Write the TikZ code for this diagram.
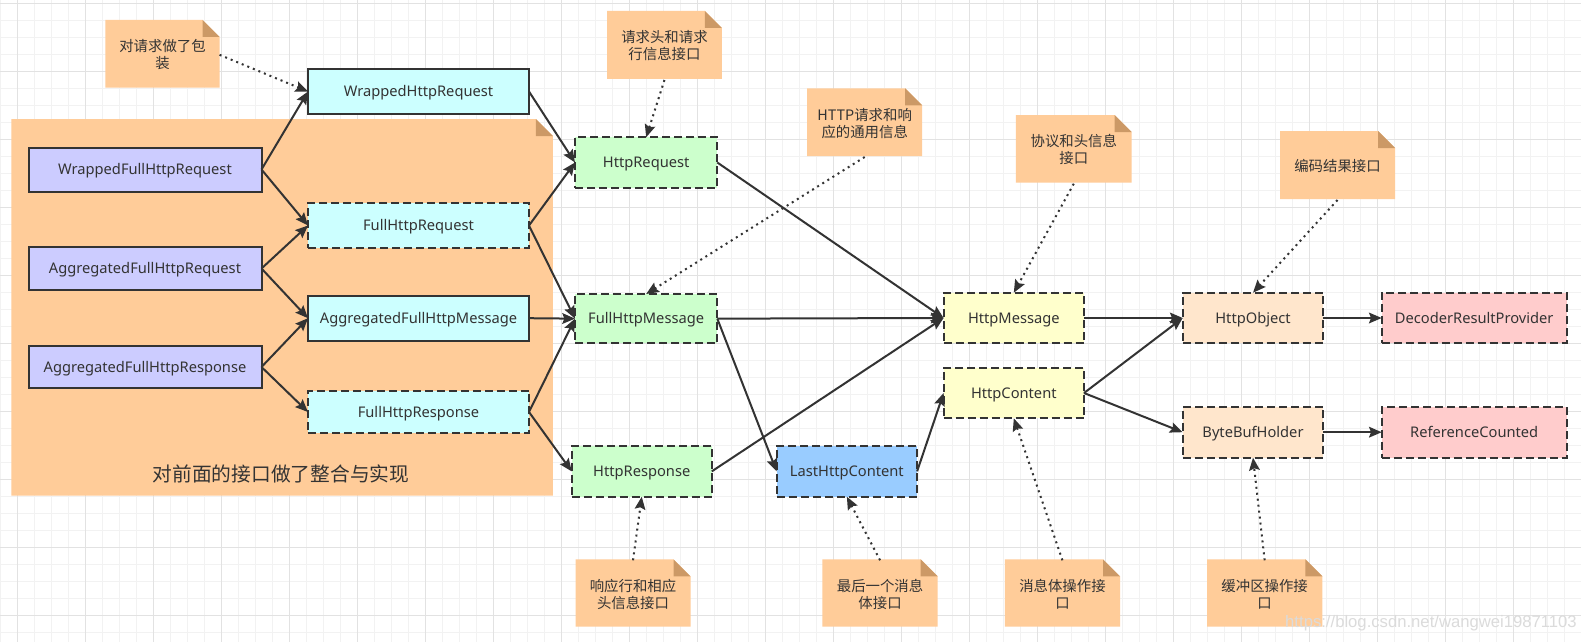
\documentclass[tikz,border=0pt]{standalone}
\usepackage{fontspec}
\setmainfont{Noto Sans}
\newfontfamily\cjk{Noto Sans CJK SC}
\newfontfamily\wmfont{Liberation Sans}
\usetikzlibrary{arrows.meta}
\definecolor{ink}{HTML}{333333}
\definecolor{gridminor}{HTML}{F2F2F2}
\definecolor{gridmajor}{HTML}{E2E2E2}
\definecolor{notefill}{HTML}{FFCC99}
\definecolor{notefold}{HTML}{CC9966}
\definecolor{cpurple}{HTML}{CCCCFF}
\definecolor{ccyan}{HTML}{CCFFFF}
\definecolor{cgreen}{HTML}{CCFFCC}
\definecolor{cyellow}{HTML}{FFFFCC}
\definecolor{cblue}{HTML}{99CCFF}
\definecolor{cpeach}{HTML}{FFE6CC}
\definecolor{cpink}{HTML}{FFCCCC}
\tikzset{
 box/.style={draw=ink, line width=1.5pt, inner sep=0pt, outer sep=0pt, text=ink, text height=8pt, text depth=0pt, font=\fontsize{11}{13}\selectfont},
 solidbox/.style={box},
 dashbox/.style={box, dash pattern=on 6pt off 3pt},
 notetext/.style={inner sep=0pt, outer sep=0pt, text=ink, align=center, font=\cjk\fontsize{10.8}{12.75}\selectfont},
 conn/.style={draw=ink, line width=1.5pt, -{Stealth[length=9.5pt,width=8pt,inset=1.5pt]}},
 dotconn/.style={conn, dash pattern=on 1.5pt off 3pt}
}
\newcommand{\bx}[7]{\node[#6, minimum width={(#4-#2)*0.75pt}, minimum height={(#5-#3)*0.75pt}] (#1) at ({(#2+#4)/2},{(#3+#5)/2}) {#7};}
\newcommand{\notebg}[4]{%
 \fill[notefill] (#1,#2) -- ({#3-17},#2) -- (#3,{#2+17}) -- (#3,#4) -- (#1,#4) -- cycle;
 \fill[notefold] ({#3-17},#2) -- ({#3-17},{#2+17}) -- (#3,{#2+17}) -- cycle;}
\newcommand{\nt}[6]{\notebg{#2}{#3}{#4}{#5}%
 \node[notetext, minimum width={(#4-#2)*0.75pt}, minimum height={(#5-#3)*0.75pt}] (#1) at ({(#2+#4)/2},{(#3+#5)/2+1}) {#6};}
\begin{document}
\begin{tikzpicture}[x=0.75pt,y=-0.75pt]
\useasboundingbox (0,0) rectangle (1581,642);
\fill[white] (0,0) rectangle (1581,642);
% grid
\foreach \i in {0,...,93} {\pgfmathsetmacro\xx{0.3+17*\i}\draw[gridminor,line width=0.75pt] (\xx,0) -- (\xx,642);}
\foreach \i in {0,...,37} {\pgfmathsetmacro\yy{3.3+17*\i}\draw[gridminor,line width=0.75pt] (0,\yy) -- (1581,\yy);}
\foreach \i in {0,...,23} {\pgfmathsetmacro\xx{17.3+68*\i}\draw[gridmajor,line width=0.75pt] (\xx,0) -- (\xx,642);}
\foreach \i in {0,...,9} {\pgfmathsetmacro\yy{3.3+68*\i}\draw[gridmajor,line width=0.75pt] (0,\yy) -- (1581,\yy);}
% big group note
\notebg{11.4}{119}{552.9}{495.7}
\node[notetext, font=\cjk\fontsize{14.8}{17}\selectfont] (biglabel) at (281,474) {对前面的接口做了整合与实现};
% notes
\nt{n1}{105.4}{20}{219.6}{87.7}{对请求做了包\\装}
\nt{n2}{607.1}{11}{721.8}{79}{请求头和请求\\行信息接口}
\nt{n3}{807.2}{88.3}{922.2}{156}{HTTP请求和响\\应的通用信息}
\nt{n4}{1015.9}{115}{1131.7}{182.7}{协议和头信息\\接口}
\nt{n5}{1280}{131}{1395}{199}{编码结果接口}
\nt{n6}{575.5}{559.3}{690.5}{626.7}{响应行和相应\\头信息接口}
\nt{n7}{822.4}{559.3}{937.7}{626.7}{最后一个消息\\体接口}
\nt{n8}{1004.9}{559.3}{1120}{626.7}{消息体操作接\\口}
\nt{n9}{1207}{559.3}{1322.3}{626.7}{缓冲区操作接\\口}
% boxes
\bx{whr}{308}{69}{529}{114}{solidbox,fill=ccyan}{WrappedHttpRequest}
\bx{wfr}{28.5}{147.5}{261.5}{191.5}{solidbox,fill=cpurple}{WrappedFullHttpRequest}
\bx{fhr}{308}{203}{529}{248}{dashbox,fill=ccyan}{FullHttpRequest}
\bx{afr}{28.5}{247}{261.5}{290}{solidbox,fill=cpurple}{AggregatedFullHttpRequest}
\bx{afm}{308}{295.7}{529}{340.7}{solidbox,fill=ccyan}{AggregatedFullHttpMessage}
\bx{afs}{28.5}{345.7}{261.5}{388.3}{solidbox,fill=cpurple}{AggregatedFullHttpResponse}
\bx{fhs}{308}{390.7}{529}{433.3}{dashbox,fill=ccyan}{FullHttpResponse}
\bx{hrq}{575}{137.3}{717.3}{187.7}{dashbox,fill=cgreen}{HttpRequest}
\bx{fhm}{575}{294}{717.3}{343.3}{dashbox,fill=cgreen}{FullHttpMessage}
\bx{hrs}{571.7}{446}{711.8}{496.7}{dashbox,fill=cgreen}{HttpResponse}
\bx{lhc}{776.6}{446}{917.1}{496.7}{dashbox,fill=cblue}{LastHttpContent}
\bx{hm}{943.6}{292.7}{1084}{343.3}{dashbox,fill=cyellow}{HttpMessage}
\bx{hc}{943.6}{367.7}{1084}{418.3}{dashbox,fill=cyellow}{HttpContent}
\bx{ho}{1182.7}{292.7}{1323.3}{343.3}{dashbox,fill=cpeach}{HttpObject}
\bx{bbh}{1182.7}{406.7}{1323.3}{457.7}{dashbox,fill=cpeach}{ByteBufHolder}
\bx{drp}{1381.7}{292.7}{1566.7}{343.3}{dashbox,fill=cpink}{DecoderResultProvider}
\bx{rc}{1381.7}{406.7}{1566.7}{457.7}{dashbox,fill=cpink}{ReferenceCounted}
% solid connectors
\draw[conn] (wfr.east) -- (whr.west);
\draw[conn] (wfr.east) -- (fhr.west);
\draw[conn] (afr.east) -- (fhr.west);
\draw[conn] (afr.east) -- (afm.west);
\draw[conn] (afs.east) -- (afm.west);
\draw[conn] (afs.east) -- (fhs.west);
\draw[conn] (whr.east) -- (hrq.west);
\draw[conn] (fhr.east) -- (hrq.west);
\draw[conn] (fhr.east) -- (fhm.west);
\draw[conn] (afm.east) -- (fhm.west);
\draw[conn] (fhs.east) -- (fhm.west);
\draw[conn] (fhs.east) -- (hrs.west);
\draw[conn] (hrq.east) -- (hm.west);
\draw[conn] (fhm.east) -- (hm.west);
\draw[conn] (hrs.east) -- (hm.west);
\draw[conn] (fhm.east) -- (lhc.west);
\draw[conn] (lhc.east) -- (hc.west);
\draw[conn] (hm.east) -- (ho.west);
\draw[conn] (hc.east) -- (ho.west);
\draw[conn] (hc.east) -- (bbh.west);
\draw[conn] (ho.east) -- (drp.west);
\draw[conn] (bbh.east) -- (rc.west);
% dotted connectors
\draw[dotconn] (n1.east) -- (whr.west);
\draw[dotconn] (n2.south) -- (hrq.north);
\draw[dotconn] (n3.south) -- (fhm.north);
\draw[dotconn] (n4.south) -- (hm.north);
\draw[dotconn] (n5.south) -- (ho.north);
\draw[dotconn] (n6.north) -- (hrs.south);
\draw[dotconn] (n7.north) -- (lhc.south);
\draw[dotconn] (n8.north) -- (hc.south);
\draw[dotconn] (n9.north) -- (bbh.south);
% watermark
\node[inner sep=0pt, text=black!14, font=\wmfont\fontsize{12.5}{14}\selectfont] (wm) at (1431,623) {https://blog.csdn.net/wangwei19871103};
\end{tikzpicture}
\end{document}
